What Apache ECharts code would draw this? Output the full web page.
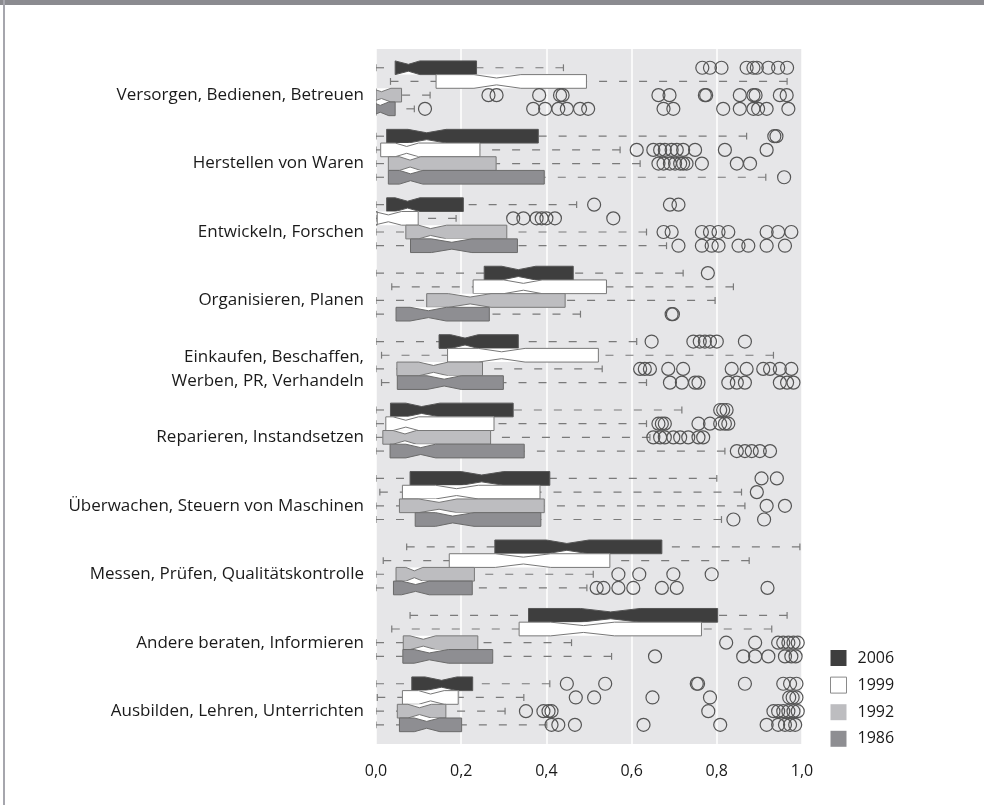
<!DOCTYPE html>
<html><head><meta charset="utf-8">
<script src="https://cdn.jsdelivr.net/npm/echarts@6/dist/echarts.min.js"></script>
<style>html,body{margin:0;padding:0;background:#fff}#c{width:984px;height:805px}</style>
</head><body><div id="c"></div>
<script>
// Categories (top to bottom)
const categories = [
  'Versorgen, Bedienen, Betreuen',
  'Herstellen von Waren',
  'Entwickeln, Forschen',
  'Organisieren, Planen',
  'Einkaufen, Beschaffen,\nWerben, PR, Verhandeln',
  'Reparieren, Instandsetzen',
  'Überwachen, Steuern von Maschinen',
  'Messen, Prüfen, Qualitätskontrolle',
  'Andere beraten, Informieren',
  'Ausbilden, Lehren, Unterrichten'
];
const years = ['2006', '1999', '1992', '1986'];
const xTickLabels = ['0,0', '0,2', '0,4', '0,6', '0,8', '1,0'];

// box stats per category: [lowerWhisker, Q1, notchLow, median, notchHigh, Q3, upperWhisker]
const box2006 = [
  [0.000, 0.045, 0.045, 0.076, 0.103, 0.236, 0.440],
  [0.000, 0.025, 0.075, 0.119, 0.165, 0.381, 0.870],
  [0.000, 0.025, 0.045, 0.074, 0.103, 0.205, 0.471],
  [0.000, 0.254, 0.295, 0.334, 0.375, 0.463, 0.721],
  [0.000, 0.148, 0.175, 0.209, 0.240, 0.334, 0.612],
  [0.000, 0.034, 0.070, 0.107, 0.150, 0.322, 0.718],
  [0.000, 0.080, 0.200, 0.248, 0.300, 0.408, 0.800],
  [0.072, 0.279, 0.400, 0.448, 0.500, 0.671, 0.995],
  [0.080, 0.358, 0.480, 0.551, 0.620, 0.802, 0.965],
  [0.000, 0.084, 0.115, 0.154, 0.190, 0.227, 0.408]
];
const box1999 = [
  [0.034, 0.141, 0.230, 0.283, 0.340, 0.494, 0.965],
  [0.000, 0.011, 0.045, 0.072, 0.100, 0.244, 0.573],
  [0.000, 0.003, -0.005, 0.029, 0.060, 0.099, 0.188],
  [0.037, 0.228, 0.300, 0.346, 0.390, 0.541, 0.839],
  [0.013, 0.168, 0.240, 0.295, 0.350, 0.522, 0.933],
  [0.000, 0.023, 0.040, 0.070, 0.100, 0.277, 0.635],
  [0.009, 0.062, 0.140, 0.189, 0.240, 0.385, 0.858],
  [0.017, 0.172, 0.280, 0.346, 0.410, 0.549, 0.876],
  [0.037, 0.336, 0.410, 0.487, 0.560, 0.764, 0.929],
  [0.003, 0.062, 0.100, 0.128, 0.160, 0.193, 0.347]
];
const box1992 = [
  [0.000, 0.000, -0.012, 0.013, 0.035, 0.060, 0.127],
  [0.000, 0.029, 0.055, 0.080, 0.105, 0.282, 0.620],
  [0.000, 0.070, 0.100, 0.128, 0.166, 0.307, 0.635],
  [0.000, 0.119, 0.170, 0.221, 0.270, 0.444, 0.796],
  [0.000, 0.049, 0.100, 0.135, 0.170, 0.250, 0.531],
  [0.000, 0.016, 0.040, 0.068, 0.095, 0.269, 0.643],
  [0.000, 0.055, 0.100, 0.148, 0.190, 0.395, 0.866],
  [0.000, 0.047, 0.070, 0.090, 0.110, 0.231, 0.510],
  [0.000, 0.064, 0.080, 0.111, 0.140, 0.239, 0.459],
  [0.000, 0.050, 0.075, 0.102, 0.130, 0.164, 0.303]
];
const box1986 = [
  [0.000, 0.000, -0.010, 0.010, 0.030, 0.045, 0.090],
  [0.000, 0.029, 0.055, 0.081, 0.110, 0.395, 0.915],
  [0.000, 0.081, 0.130, 0.178, 0.225, 0.332, 0.682],
  [0.000, 0.047, 0.080, 0.123, 0.165, 0.266, 0.480],
  [0.013, 0.050, 0.120, 0.160, 0.200, 0.299, 0.635],
  [0.000, 0.033, 0.070, 0.105, 0.140, 0.348, 0.819],
  [0.000, 0.092, 0.140, 0.180, 0.230, 0.387, 0.811],
  [0.000, 0.041, 0.060, 0.093, 0.125, 0.226, 0.495],
  [0.000, 0.063, 0.090, 0.125, 0.170, 0.274, 0.553],
  [0.000, 0.055, 0.090, 0.119, 0.150, 0.201, 0.401]
];

// outliers per category
const out2006 = [
  [0.766, 0.784, 0.811, 0.870, 0.886, 0.894, 0.921, 0.944, 0.965],
  [0.935, 0.940],
  [0.512, 0.690, 0.710],
  [0.779],
  [0.647, 0.745, 0.760, 0.772, 0.784, 0.800, 0.866],
  [0.808, 0.815, 0.823],
  [0.905, 0.941],
  [],
  [],
  [0.448, 0.538, 0.753, 0.756, 0.866, 0.956, 0.972, 0.987]
];
const out1999 = [
  [],
  [0.612, 0.651, 0.667, 0.678, 0.694, 0.706, 0.721, 0.749, 0.819, 0.917],
  [0.322, 0.346, 0.377, 0.389, 0.400, 0.420, 0.557],
  [],
  [],
  [0.663, 0.671, 0.678, 0.757, 0.784, 0.808, 0.819, 0.827],
  [0.894],
  [],
  [],
  [0.469, 0.512, 0.649, 0.784, 0.970, 0.978, 0.987]
];
const out1992 = [
  [0.264, 0.283, 0.383, 0.432, 0.438, 0.663, 0.689, 0.772, 0.775, 0.854, 0.886, 0.891, 0.948, 0.964],
  [0.663, 0.675, 0.690, 0.702, 0.714, 0.721, 0.729, 0.765, 0.847, 0.878],
  [0.675, 0.694, 0.765, 0.784, 0.804, 0.827, 0.917, 0.944, 0.975],
  [],
  [0.620, 0.631, 0.643, 0.686, 0.721, 0.835, 0.870, 0.909, 0.925, 0.948, 0.975],
  [0.651, 0.667, 0.678, 0.698, 0.714, 0.733, 0.757, 0.768],
  [0.917, 0.960],
  [0.569, 0.618, 0.698, 0.788],
  [0.822, 0.890, 0.944, 0.956, 0.968, 0.980, 0.990],
  [0.352, 0.393, 0.405, 0.412, 0.780, 0.933, 0.944, 0.956, 0.968, 0.980, 0.990]
];
const out1986 = [
  [0.115, 0.369, 0.397, 0.428, 0.448, 0.479, 0.498, 0.675, 0.698, 0.815, 0.854, 0.886, 0.897, 0.917, 0.968],
  [0.958],
  [0.710, 0.765, 0.788, 0.804, 0.851, 0.874, 0.917, 0.960],
  [0.694, 0.697],
  [0.690, 0.718, 0.749, 0.757, 0.827, 0.847, 0.866, 0.948, 0.965, 0.980],
  [0.847, 0.866, 0.882, 0.901, 0.925],
  [0.839, 0.911],
  [0.518, 0.534, 0.569, 0.604, 0.671, 0.706, 0.919],
  [0.655, 0.862, 0.890, 0.921, 0.960, 0.975, 0.985],
  [0.412, 0.428, 0.467, 0.628, 0.808, 0.917, 0.944, 0.960, 0.972, 0.984]
];

const boxes = [box2006, box1999, box1992, box1986];
const outs = [out2006, out1999, out1992, out1986];
const fills = ['#3e3e3e', '#ffffff', '#bdbdc0', '#8e8e92'];
const strokes = ['#555555', '#777777', '#777777', '#6a6a6a'];
const GROUP = 5;
const labelPos = categories.map((c, g) => g * GROUP + 2);

function makeRender(fill, stroke) {
  return function (params, api) {
    const p = api.value(0);
    const lo = api.value(1), q1 = api.value(2), nlo = api.value(3), med = api.value(4),
          nhi = api.value(5), q3 = api.value(6), hi = api.value(7), k = api.value(8);
    const P = (v, d) => api.coord([v, p + d]);
    const wStyle = { stroke: '#7a7a7a', lineWidth: 1.2, lineDash: [8, 12], fill: null };
    const sStyle = { stroke: '#7a7a7a', lineWidth: 1.2, fill: null };
    const ch = [];
    const a = P(lo, 0), b = P(q1, 0), c = P(hi, 0), d = P(q3, 0);
    ch.push({ type: 'line', shape: { x1: a[0], y1: a[1], x2: b[0], y2: b[1] }, style: wStyle });
    ch.push({ type: 'line', shape: { x1: c[0], y1: c[1], x2: d[0], y2: d[1] }, style: wStyle });
    const s1 = P(lo, -0.25), s2 = P(lo, 0.25), s3 = P(hi, -0.25), s4 = P(hi, 0.25);
    ch.push({ type: 'line', shape: { x1: s1[0], y1: s1[1], x2: s2[0], y2: s2[1] }, style: sStyle });
    ch.push({ type: 'line', shape: { x1: s3[0], y1: s3[1], x2: s4[0], y2: s4[1] }, style: sStyle });
    // white backing inside group (between adjacent boxes)
    const t = k === 0 ? 0 : -0.5, bt = k === 3 ? 0 : 0.5;
    const r1 = P(q1, t), r2 = P(q3, bt);
    ch.push({ type: 'rect', shape: { x: r1[0], y: r1[1], width: r2[0] - r1[0], height: r2[1] - r1[1] },
      style: { fill: '#ffffff' } });
    const pts = [
      P(q1, -0.5), P(nlo, -0.5), P(med, -0.25), P(nhi, -0.5), P(q3, -0.5),
      P(q3, 0.5), P(nhi, 0.5), P(med, 0.25), P(nlo, 0.5), P(q1, 0.5)
    ];
    ch.push({ type: 'polygon', shape: { points: pts }, style: { fill: fill, stroke: stroke, lineWidth: 1 } });
    return { type: 'group', children: ch };
  };
}

const series = [];
years.forEach((y, k) => {
  series.push({
    name: y, type: 'custom', clip: true, silent: true,
    itemStyle: { color: fills[k] },
    renderItem: makeRender(fills[k], strokes[k]),
    encode: { x: [1, 2, 3, 4, 5, 6, 7], y: 0 },
    data: boxes[k].map((b, g) => [g * GROUP + k].concat(b).concat([k]))
  });
});
years.forEach((y, k) => {
  const pts = [];
  outs[k].forEach((arr, g) => arr.forEach(v => pts.push([v, g * GROUP + k])));
  series.push({
    name: y, type: 'scatter', silent: true, symbol: 'circle', symbolSize: 13,
    itemStyle: { color: 'rgba(0,0,0,0)', borderColor: '#555', borderWidth: 1.2, opacity: 1 },
    data: pts, z: 5
  });
});

const chart = echarts.init(document.getElementById('c'), null, { renderer: 'canvas' });
const FONT = 'Open Sans';
chart.setOption({
  animation: false,
  backgroundColor: '#ffffff',
  textStyle: { fontFamily: FONT },
  grid: { left: 376, right: 182, top: 49, bottom: 61, show: true, backgroundColor: '#e6e6e8', borderWidth: 0 },
  xAxis: {
    type: 'value', min: 0, max: 1, interval: 0.2,
    axisLine: { show: false }, axisTick: { show: false },
    splitLine: { show: true, lineStyle: { color: '#ffffff', width: 1.5 } },
    axisLabel: { fontFamily: FONT, fontSize: 16, color: '#1a1a1a', margin: 19,
      formatter: (v) => xTickLabels[Math.round(v / 0.2)] }
  },
  yAxis: {
    type: 'value', inverse: true, min: -1.37, max: 49.4,
    axisLine: { show: false }, axisTick: { show: false }, splitLine: { show: false },
    axisLabel: { customValues: labelPos, fontFamily: FONT, fontSize: 17, color: '#1a1a1a', margin: 12, lineHeight: 24,
      formatter: (v) => categories[Math.round((v - 2) / GROUP)] }
  },
  legend: {
    orient: 'vertical', left: 825, top: 645, itemWidth: 16, itemHeight: 16, itemGap: 10.6,
    selectedMode: false,
    textStyle: { fontFamily: FONT, fontSize: 16, color: '#1a1a1a', padding: [0, 0, 0, 6] },
    data: [
      { name: '2006', icon: 'rect', itemStyle: { color: fills[0], borderWidth: 0 } },
      { name: '1999', icon: 'rect', itemStyle: { color: '#ffffff', borderColor: '#8a8a8a', borderWidth: 1 } },
      { name: '1992', icon: 'rect', itemStyle: { color: fills[2], borderWidth: 0 } },
      { name: '1986', icon: 'rect', itemStyle: { color: fills[3], borderWidth: 0 } }
    ]
  },
  graphic: [
    { type: 'rect', left: 0, top: 0, shape: { width: 984, height: 5 }, style: { fill: '#8b8b90' }, silent: true },
    { type: 'rect', left: 3, top: 0, shape: { width: 2, height: 805 }, style: { fill: '#a6a6ad' }, silent: true }
  ],
  series: series
});
</script></body></html>
